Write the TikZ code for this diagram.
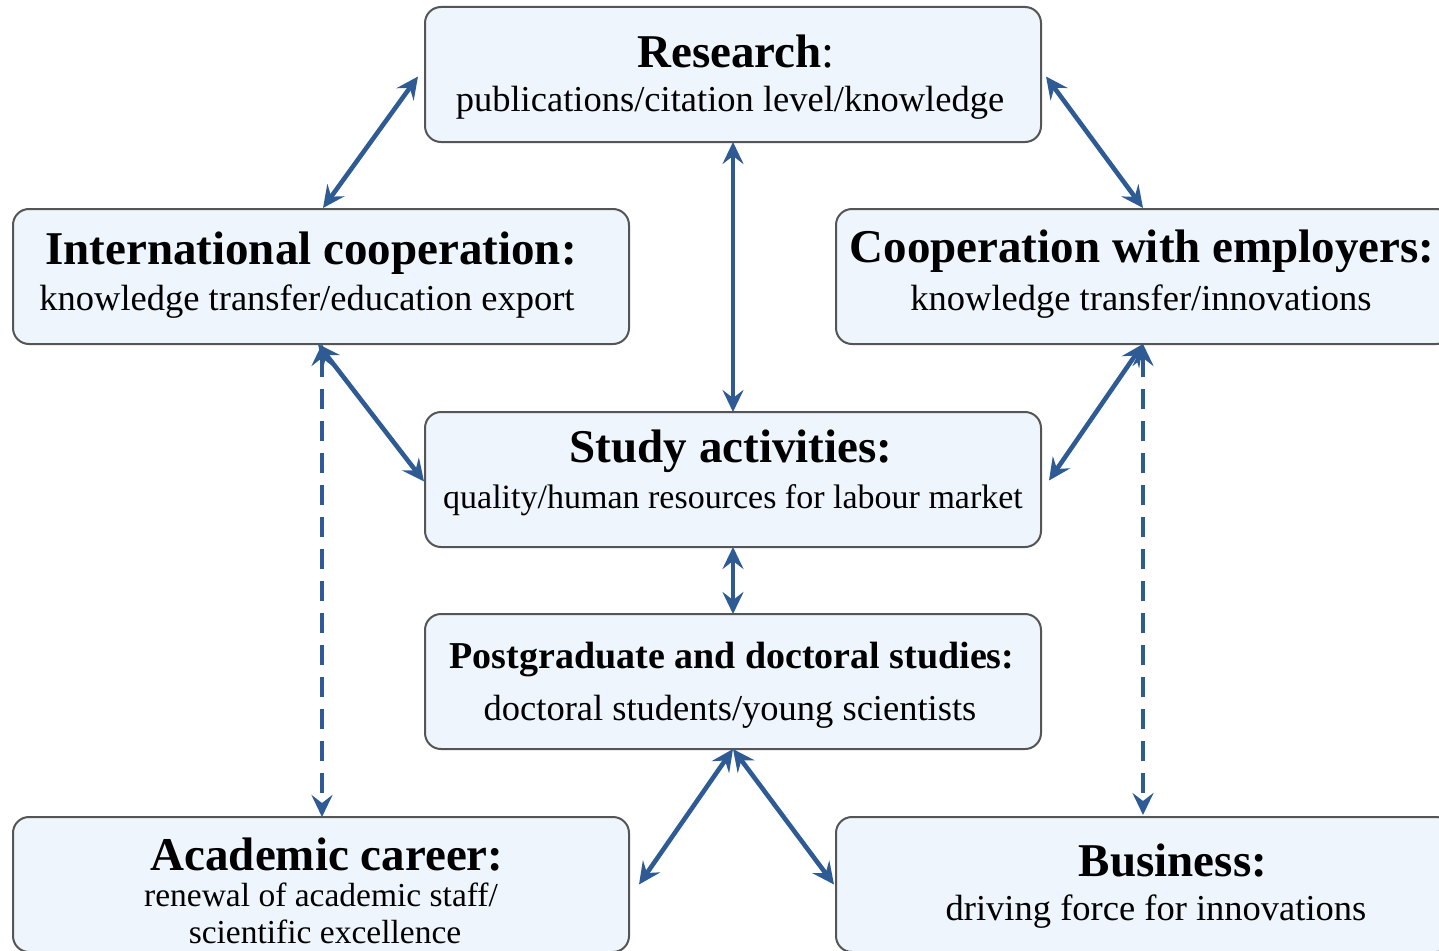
\documentclass[tikz,border=0pt]{standalone}
\usepackage{fontspec}
\setmainfont{Liberation Serif}
\usetikzlibrary{arrows.meta}
\definecolor{boxfill}{HTML}{EEF5FD}
\definecolor{boxline}{HTML}{555555}
\definecolor{arrowblue}{HTML}{2F5B95}
\tikzset{
  box/.style={draw=boxline, line width=2pt, fill=boxfill, rounded corners=16pt,
    minimum width=616pt, minimum height=135pt, inner sep=0pt},
  ttl/.style={anchor=base, inner sep=0pt, font=\fontsize{47}{50}\selectfont\bfseries},
  ttlsmall/.style={anchor=base, inner sep=0pt, font=\fontsize{38}{42}\selectfont\bfseries},
  sub/.style={anchor=base, inner sep=0pt, font=\fontsize{36.5}{40}\selectfont},
  subsmall/.style={anchor=base, inner sep=0pt, font=\fontsize{34}{38}\selectfont},
  subtiny/.style={anchor=base, inner sep=0pt, font=\fontsize{33.5}{37}\selectfont},
  link/.style={draw=arrowblue, line width=4.6pt,
    {Stealth[length=22pt,width=21pt,inset=8pt]}-{Stealth[length=22pt,width=21pt,inset=8pt]}},
  dlink/.style={link, dash pattern=on 20pt off 12pt},
}
\begin{document}
\begin{tikzpicture}[x=1pt,y=-1pt]
\useasboundingbox (0,0) rectangle (1439,950);
\clip (0,0) rectangle (1439,950);
\fill[white] (0,0) rectangle (1439,950);

% boxes
\node[box] (res)  at (733,74.5) {};
\node[box] (intl) at (321,276.5) {};
\node[box] (coop) at (1144,276.5) {};
\node[box] (stud) at (733,479.5) {};
\node[box] (post) at (733,681.5) {};
\node[box] (acad) at (321,884.5) {};
\node[box] (bus)  at (1144,884.5) {};

% texts
\node[ttl] (resT) at (736,67) {Research\mdseries:};
\node[sub] (resS) at (730,111) {publications/citation level/knowledge};
\node[ttl] (intlT) at (311,264) {International cooperation:};
\node[sub] (intlS) at (307,310) {knowledge transfer/education export};
\node[ttl] (coopT) at (1142,262) {Cooperation with employers:};
\node[sub] (coopS) at (1141,310) {knowledge transfer/innovations};
\node[ttl] (studT) at (731,462) {Study activities:};
\node[subsmall] (studS) at (733,508) {quality/human resources for labour market};
\node[ttlsmall] (postT) at (732,668) {Postgraduate and doctoral studies:};
\node[sub] (postS) at (730,720) {doctoral students/young scientists};
\node[ttl] (acadT) at (327,870) {Academic career:};
\node[subtiny] (acadS1) at (321,906) {renewal of academic staff/};
\node[subtiny] (acadS2) at (325,943) {scientific excellence};
\node[ttl] (busT) at (1173,876) {Business:};
\node[sub] (busS) at (1156,920) {driving force for innovations};

% connectors
\draw[link] ([xshift=-6pt,yshift=-2pt]res.west) -- ([xshift=2pt]intl.north);
\draw[link] ([xshift=4pt,yshift=-2pt]res.east) -- ([xshift=-1pt]coop.north);
\draw[link] ([yshift=1pt]res.south) -- ([yshift=-1pt]stud.north);
\draw[link] ([xshift=-3pt,yshift=1pt]intl.south) -- ([yshift=-2pt]stud.west);
\draw[link] ([xshift=-1pt,yshift=1pt]coop.south) -- ([xshift=7pt,yshift=-1pt]stud.east);
\draw[link] ([yshift=1pt]stud.south) -- ([yshift=-1pt]post.north);
\draw[link] ([yshift=1pt]post.south) -- ([xshift=9pt]acad.east);
\draw[link] ([yshift=1pt]post.south) -- ([xshift=-1pt]bus.west);
\draw[dlink] ([xshift=1pt,yshift=1pt]intl.south) -- ([xshift=1pt,yshift=-1pt]acad.north);
\draw[dlink] ([xshift=-1pt,yshift=1pt]coop.south) -- ([xshift=-1pt,yshift=1pt]bus.north);
\end{tikzpicture}
\end{document}
